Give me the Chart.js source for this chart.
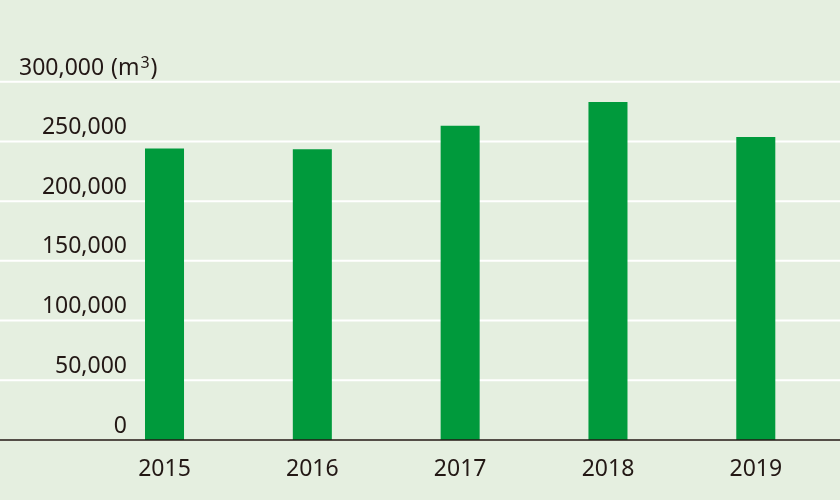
<!DOCTYPE html>
<html lang="ja">
<head>
<meta charset="utf-8">
<title>Volumen anual</title>
<script src="https://cdn.jsdelivr.net/npm/chart.js@4/dist/chart.umd.min.js"></script>
<style>
    html, body { margin: 0; padding: 0; background: #e5efe0; }
    #contenedor { width: 840px; height: 500px; }
</style>
</head>
<body>
<div id="contenedor">
    <canvas id="graficaVolumen" width="840" height="500"></canvas>
</div>
<script>
// Datos
const anios = ['2015', '2016', '2017', '2018', '2019'];
const volumen = [244000, 243400, 263100, 282900, 253600];
const marcasY = [0, 50000, 100000, 150000, 200000, 250000, 300000];
const unidadY = ['(m', '3', ')'];

const COLOR_FONDO = '#e5efe0';
const COLOR_BARRA = '#009a3c';
const COLOR_TEXTO = '#231815';
const FUENTE = '"Noto Sans", sans-serif';
const TAM_FUENTE = 23;

function formatear(n) {
    return n.toLocaleString('en-US');
}

// Fondo, líneas de guía de lado a lado y etiquetas del eje Y
const pluginFondo = {
    id: 'fondoYGuias',
    beforeDraw(chart) {
        const ctx = chart.ctx;
        ctx.save();
        ctx.fillStyle = COLOR_FONDO;
        ctx.fillRect(0, 0, chart.width, chart.height);
        ctx.restore();
    },
    beforeDatasetsDraw(chart) {
        const ctx = chart.ctx;
        const y = chart.scales.y;
        ctx.save();
        ctx.strokeStyle = '#ffffff';
        ctx.lineWidth = 2;
        marcasY.forEach(v => {
            if (v === 0) return;
            const py = y.getPixelForValue(v);
            ctx.beginPath();
            ctx.moveTo(0, py);
            ctx.lineTo(chart.width, py);
            ctx.stroke();
        });
        ctx.restore();
    },
    afterDatasetsDraw(chart) {
        const ctx = chart.ctx;
        const y = chart.scales.y;
        ctx.save();
        // línea base
        const py0 = y.getPixelForValue(0);
        ctx.strokeStyle = COLOR_TEXTO;
        ctx.lineWidth = 1.6;
        ctx.beginPath();
        ctx.moveTo(0, py0);
        ctx.lineTo(chart.width, py0);
        ctx.stroke();

        // etiquetas
        ctx.fillStyle = COLOR_TEXTO;
        ctx.font = TAM_FUENTE + 'px ' + FUENTE;
        ctx.textBaseline = 'alphabetic';
        marcasY.forEach((v, i) => {
            const py = y.getPixelForValue(v) - 7.5;
            if (i === marcasY.length - 1) {
                // la última lleva la unidad con superíndice
                ctx.textAlign = 'left';
                ctx.fillText(formatear(v), 19, py + 0.8);
                let x = 111;
                ctx.fillText(unidadY[0], x, py + 0.8);
                x += ctx.measureText(unidadY[0]).width + 1;
                ctx.font = '16px ' + FUENTE;
                ctx.fillText(unidadY[1], x, py - 6);
                x += ctx.measureText(unidadY[1]).width + 1;
                ctx.font = TAM_FUENTE + 'px ' + FUENTE;
                ctx.fillText(unidadY[2], x, py + 0.8);
            } else {
                ctx.textAlign = 'right';
                ctx.fillText(formatear(v), 127, py);
            }
        });
        ctx.restore();
    }
};

const ctx = document.getElementById('graficaVolumen').getContext('2d');
window.miGrafica = new Chart(ctx, {
    type: 'bar',
    data: {
        labels: anios,
        datasets: [{
            data: volumen,
            backgroundColor: COLOR_BARRA,
            borderWidth: 0,
            categoryPercentage: 1,
            barPercentage: 0.264
        }]
    },
    options: {
        responsive: false,
        animation: false,
        devicePixelRatio: 1,
        layout: {
            padding: { left: 90.6, right: 10.3, top: 81.7, bottom: 0 }
        },
        plugins: {
            legend: { display: false },
            tooltip: { enabled: false }
        },
        scales: {
            x: {
                grid: { display: false },
                border: { display: false },
                ticks: {
                    color: COLOR_TEXTO,
                    font: { family: FUENTE, size: TAM_FUENTE },
                    padding: 8,
                    maxRotation: 0
                },
                afterFit: s => { s.height = 60; }
            },
            y: {
                display: false,
                min: 0,
                max: 300000
            }
        }
    },
    plugins: [pluginFondo]
});
</script>
</body>
</html>
